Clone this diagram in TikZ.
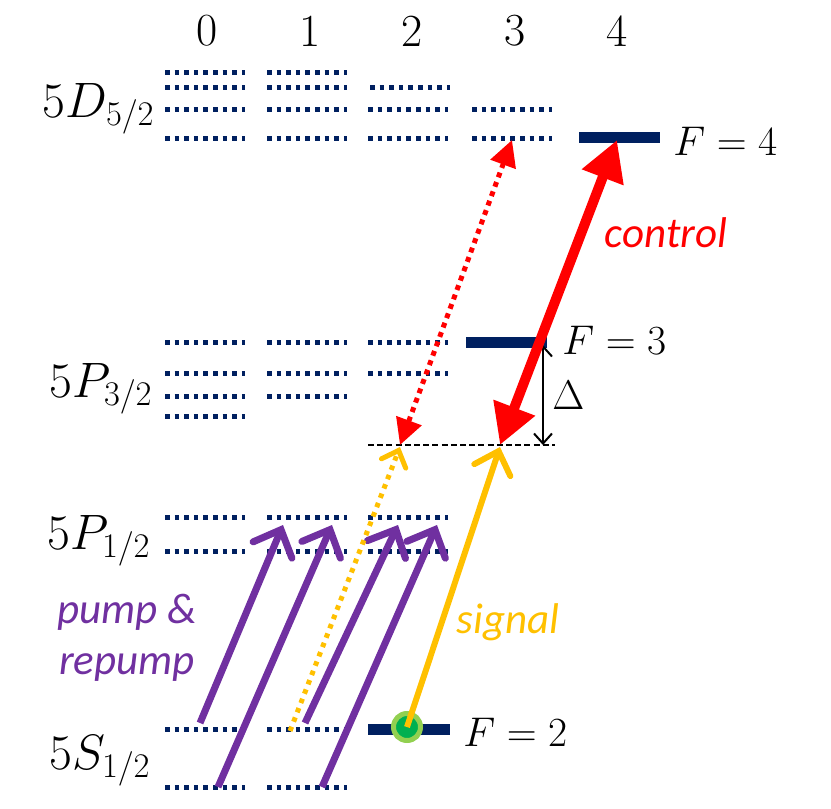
\documentclass[tikz,border=0pt]{standalone}
\usepackage{fontspec}
\newfontfamily\calibfont{Carlito}
\usetikzlibrary{arrows.meta}
\definecolor{navy}{HTML}{002060}
\definecolor{ctrlred}{HTML}{FF0000}
\definecolor{sigyellow}{HTML}{FFC000}
\definecolor{pumppurple}{HTML}{7030A0}
\definecolor{atomgreen}{HTML}{00B050}
\definecolor{ringgreen}{HTML}{92D050}

\begin{document}
\begin{tikzpicture}[x=0.5pt, y=-0.5pt,
  every node/.style={font=\fontsize{22}{26}\selectfont, inner sep=0pt},
  lvl/.style={navy, line width=2.5pt, dash pattern=on 2.3pt off 2.5pt},
  bar/.style={navy, line width=5.5pt},
  word/.style={font=\fontsize{21.5}{26}\selectfont\calibfont\itshape},
  ctrl/.style={ctrlred, line width=5pt, {Triangle[length=20pt,width=21pt]}-{Triangle[length=20pt,width=21pt]}},
  ctrldot/.style={ctrlred, line width=2.5pt, dash pattern=on 2.5pt off 2.5pt, {Triangle[length=13pt,width=13pt]}-{Triangle[length=13pt,width=13pt]}},
  sig/.style={sigyellow, line width=3pt, -{Straight Barb[length=10pt,width=19pt,line cap=round]}},
  sigdot/.style={sigyellow, line width=2.5pt, dash pattern=on 2.3pt off 2.7pt, -{Straight Barb[length=7pt,width=13pt,line cap=round]}},
  pump/.style={pumppurple, line width=3.5pt, -{Straight Barb[length=11pt,width=21pt,line cap=round]}}]
\useasboundingbox (0,0) rectangle (831,809);

% hyperfine columns F = 0..4
\foreach \i/\x in {0/207,1/310,2/412,3/515,4/617}
  \node (col\i) at (\x,31) {\fontsize{23}{27}\selectfont\i};

% fine-structure labels
\node[anchor=base east, font=\fontsize{24}{28}\selectfont] (d52) at (155,117) {$5D_{5/2}$};
\node[anchor=base east, font=\fontsize{24}{28}\selectfont] (p32) at (153,397) {$5P_{3/2}$};
\node[anchor=base east, font=\fontsize{24}{28}\selectfont] (p12) at (151,549) {$5P_{1/2}$};
\node[anchor=base east, font=\fontsize{24}{28}\selectfont] (s12) at (151,769) {$5S_{1/2}$};

% unused sublevels
\foreach \x/\y in {165/72,267/72, 165/87,267/87,370/87,
    165/109,267/109,368/109,472/109, 165/138,267/138,368/138,472/138,
    165/342,267/342,368/342, 165/373,267/373,368/373, 165/396,267/396, 165/416,
    165/517,267/517,368/517, 165/551,267/551,368/551,
    165/729,267/729, 165/787,267/787}
  \draw[lvl] (\x,\y) -- ++(80,0);

% levels in use
\coordinate (f4a) at (579,137); \coordinate (f4b) at (660,137);
\coordinate (f3a) at (466,342); \coordinate (f3b) at (547,342);
\coordinate (f2a) at (368,729); \coordinate (f2b) at (450,729);
\draw[bar] (f4a) -- (f4b);
\draw[bar] (f3a) -- (f3b);
\draw[bar] (f2a) -- (f2b);
\node[anchor=west] (lf4) at (673,141) {$F = 4$};
\node[anchor=west] (lf3) at (562,340) {$F = 3$};
\node[anchor=west] (lf2) at (463,732) {$F = 2$};

% detuned intermediate level
\coordinate (va) at (368,445); \coordinate (vb) at (555,445);
\draw[line width=1pt, dash pattern=on 3pt off 1.6pt] (va) -- (vb);
\coordinate (dtop) at (543,345); \coordinate (dbot) at (543,445);
\draw[line width=1pt, {Straight Barb[length=5pt,width=9pt]}-{Straight Barb[length=5pt,width=9pt]}] (dtop) -- (dbot);
\node[anchor=west] (delta) at (552,395) {$\Delta$};

% pump and repump
\coordinate (p1a) at (200,723); \coordinate (p1b) at (283,525);
\coordinate (p2a) at (218,787); \coordinate (p2b) at (332,525);
\coordinate (p3a) at (305,723); \coordinate (p3b) at (398,525);
\coordinate (p4a) at (322,787); \coordinate (p4b) at (437,525);
\draw[pump] (p1a) -- (p1b);
\draw[pump] (p2a) -- (p2b);
\draw[pump] (p3a) -- (p3b);
\draw[pump] (p4a) -- (p4b);
\node[word, pumppurple, anchor=base] (pl1) at (127,623) {pump \&};
\node[word, pumppurple, anchor=base] (pl2) at (127,674) {repump};

% signal
\node[circle, fill=atomgreen, draw=ringgreen, line width=2.5pt, minimum size=13.5pt] (atom) at (407,727) {};
\coordinate (sgtop) at (500,447);
\coordinate (sda) at (290,731); \coordinate (sdb) at (400,447);
\draw[sigdot] (sda) -- (sdb);
\draw[sig] (atom.center) -- (sgtop);
\node[word, sigyellow, anchor=base] (sl) at (508,633) {signal};

% control
\coordinate (cta) at (617,140); \coordinate (ctb) at (500,445);
\coordinate (cda) at (512,140); \coordinate (cdb) at (400,445);
\draw[ctrldot] (cda) -- (cdb);
\draw[ctrl] (cta) -- (ctb);
\node[word, ctrlred, anchor=base] (cl) at (666,247) {control};
\end{tikzpicture}
\end{document}
